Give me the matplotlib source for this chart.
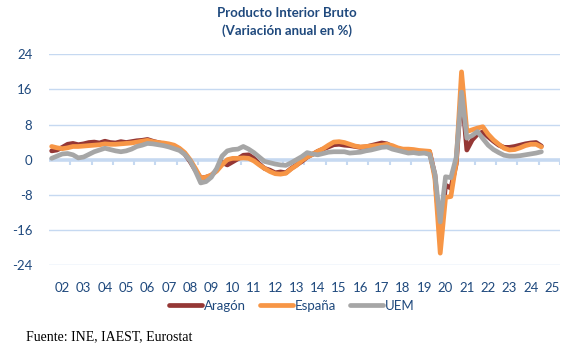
import matplotlib.pyplot as plt
import numpy as np

# quarterly series, 2002Q1 .. 2025Q1 (annual variation, %)
aragon = [
    2.0, 2.2, 2.8, 3.5,
    3.7, 3.4, 3.6, 3.9,
    4.0, 3.8, 4.2, 3.9,
    3.8, 4.1, 3.9, 4.1,
    4.3, 4.4, 4.6, 4.2,
    3.9, 3.6, 3.4, 3.0,
    2.4, 1.3, -0.4, -2.4,
    -4.2, -4.0, -3.6, -2.4,
    -0.6, -1.2, -0.5, 0.2,
    1.0, 1.1, 0.3, -1.0,
    -2.0, -2.4, -3.0, -2.8,
    -3.0, -2.0, -1.2, -0.4,
    0.6, 1.2, 1.9, 2.4,
    2.9, 3.4, 3.5, 3.3,
    3.2, 3.0, 2.8, 2.9,
    3.2, 3.5, 3.8, 3.6,
    2.9, 2.5, 2.2, 2.3,
    2.0, 1.9, 1.7, 1.8,
    -3.5, -17.5, -5.8, -6.5,
    -1.0, 16.0, 2.2, 4.5,
    5.8, 6.3, 5.2, 4.2,
    3.3, 2.8, 2.8, 3.0,
    3.3, 3.6, 3.8, 3.9,
    3.1,
]
espana = [
    3.0, 2.7, 2.5, 2.7,
    3.0, 3.0, 3.1, 3.2,
    3.3, 3.4, 3.6, 3.5,
    3.5, 3.6, 3.7, 3.8,
    4.0, 4.2, 4.4, 4.1,
    3.9, 3.8, 3.6, 3.3,
    2.6, 1.6, 0.0, -2.0,
    -4.2, -4.0, -3.5, -2.6,
    -1.2, 0.0, 0.3, 0.3,
    0.4, 0.3, -0.3, -1.2,
    -2.0, -2.7, -3.2, -3.3,
    -3.1, -2.1, -1.3, -0.2,
    0.6, 1.2, 1.9, 2.5,
    3.3, 4.0, 4.1, 3.9,
    3.5, 3.1, 2.9, 3.0,
    3.1, 3.2, 3.3, 3.5,
    3.2, 2.7, 2.4, 2.4,
    2.3, 2.1, 2.0, 1.9,
    -4.3, -21.3, -8.6, -8.4,
    -0.6, 20.0, 6.4, 6.8,
    7.2, 7.5, 5.8, 4.5,
    3.5, 2.6, 2.2, 2.3,
    2.7, 3.2, 3.5, 3.5,
    2.9,
]
uem = [
    0.3, 0.8, 1.3, 1.4,
    1.1, 0.4, 0.6, 1.2,
    1.8, 2.2, 2.6, 2.3,
    2.0, 1.8, 2.0, 2.4,
    3.0, 3.3, 3.7, 3.6,
    3.4, 3.2, 2.9, 2.5,
    2.1, 1.2, -0.2, -2.6,
    -5.3, -5.0, -4.0, -2.0,
    0.8, 2.0, 2.3, 2.4,
    3.0, 2.4, 1.6, 0.6,
    -0.4, -0.7, -1.0, -1.2,
    -1.3, -0.7, 0.0, 0.7,
    1.6, 1.3, 1.1, 1.4,
    1.7, 1.8, 1.8, 1.8,
    1.5, 1.6, 1.7, 2.0,
    2.2, 2.5, 2.8, 2.9,
    2.4, 2.1, 1.8, 1.5,
    1.6, 1.4, 1.5, 1.2,
    -3.2, -14.2, -3.9, -4.1,
    0.5, 15.4, 4.9, 5.5,
    6.4, 4.8, 3.3, 2.3,
    1.6, 1.0, 0.8, 0.8,
    0.9, 1.1, 1.3, 1.5,
    1.8,
]
year_labels = ['%02d' % y for y in range(2, 26)]
series_names = ['Aragón', 'España', 'UEM']
colors = ['#953735', '#F79646', '#A6A6A6']

txt = '#1F497D'
grid = '#C6D9F1'

fig = plt.figure(figsize=(5.67, 3.51), dpi=100)
ax = fig.add_axes([49 / 567, 1 - 265 / 351, 511 / 567, 210.7 / 351])

n_cat = 4 * len(year_labels)
ax.set_xlim(-0.5, n_cat - 0.5)
ax.set_ylim(-24, 24)

yt = [-24, -16, -8, 0, 8, 16, 24]
ax.set_yticks(yt)
ax.set_yticklabels([str(v) for v in yt])
for v in yt:
    if v != 0:
        ax.axhline(v, color=grid, lw=1, zorder=0)
ax.axhline(0, color=grid, lw=2.6, zorder=1)
# year separators on the zero line
bounds = np.arange(4, n_cat + 1, 4) - 0.5
ax.vlines(bounds, -1.2, 0, color=grid, lw=1.5, zorder=1)

ax.set_xticks(np.arange(len(year_labels)) * 4 + 2)
ax.set_xticklabels(year_labels)
ax.tick_params(axis='both', length=0, labelsize=9.5, labelcolor=txt)
ax.tick_params(axis='y', pad=12)
ax.tick_params(axis='x', pad=12)
for s in ax.spines.values():
    s.set_visible(False)

x = np.arange(len(espana))
for data, name, c in zip([aragon, espana, uem], series_names, colors):
    ax.plot(x, data, color=c, lw=3.4, label=name, solid_capstyle='round',
            solid_joinstyle='round', zorder=3)

for lbl in ax.get_xticklabels() + ax.get_yticklabels():
    lbl.set_family('Lato')

fig.text(0.506, 1 - 22 / 351, 'Producto Interior Bruto\n(Variación anual en %)',
         ha='center', va='center', fontsize=9.5, fontweight='bold', color=txt,
         family='Lato', linespacing=1.5)

leg = fig.legend(loc='center', bbox_to_anchor=(292 / 567, 1 - 306 / 351), ncol=3,
                 frameon=False, handlelength=2.5, handletextpad=0.1,
                 columnspacing=1.1, prop={'family': 'Lato', 'size': 9.5})
for t in leg.get_texts():
    t.set_color(txt)

fig.text(26 / 567, 1 - 337 / 351, 'Fuente: INE, IAEST, Eurostat', ha='left',
         va='center', fontsize=10, family='Liberation Serif', color='black')

fig.savefig('out.png', dpi=100)
